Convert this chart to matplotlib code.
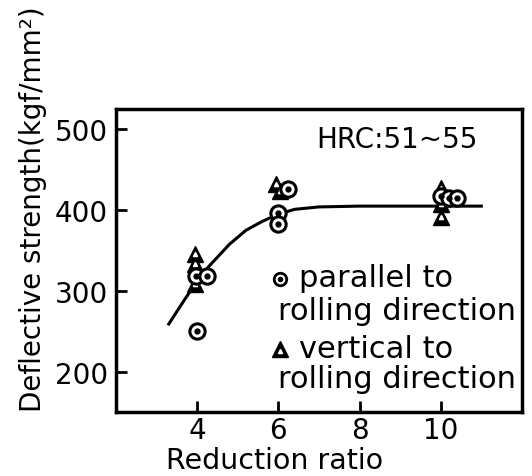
import matplotlib
matplotlib.use("Agg")
import matplotlib.pyplot as plt

# parallel to rolling direction (circles)
par_x = [3.97, 4.25, 4.0, 6.0, 6.0, 6.25, 10.0, 10.2, 10.4]
par_y = [318, 318, 250, 397, 383, 426, 417, 415, 415]

# vertical to rolling direction (triangles)
ver_x = [3.95, 3.95, 3.95, 5.95, 6.05, 10.0, 10.0, 10.0]
ver_y = [346, 333, 309, 432, 424, 428, 407, 391]

# trend curve
cur_x = [3.3, 3.7, 4.0, 4.3, 4.8, 5.2, 5.6, 6.0, 6.4, 7.0, 8.0, 9.0, 10.0, 11.0]
cur_y = [259, 290, 312, 331, 358, 375, 386, 395, 401, 404, 405, 405, 405, 405]

xticks = [4, 6, 8, 10]
yticks = [200, 300, 400, 500]

fig = plt.figure(figsize=(5.32, 4.77), dpi=100)
ax = fig.add_axes([0.218, 0.134, 0.763, 0.635])

ax.plot(cur_x, cur_y, '-', color='black', lw=2.2, zorder=1)

# circles with a dot in the centre
ax.plot(par_x, par_y, 'o', ms=11, mfc='white', mec='black', mew=2.2, ls='none', zorder=3)
ax.plot(par_x, par_y, 'o', ms=3.5, color='black', ls='none', zorder=4)
# filled triangles with a small hole
ax.plot(ver_x, ver_y, '^', ms=11, color='black', ls='none', zorder=2)
ax.plot(ver_x, ver_y, '^', ms=3, color='white', ls='none', zorder=2.5)

ax.set_xlim(2, 12)
ax.set_ylim(150, 525)
ax.set_xticks(xticks)
ax.set_yticks(yticks)
ax.tick_params(direction='in', length=8, width=2, labelsize=20, pad=6)
ax.tick_params(axis='x', pad=3)
for s in ax.spines.values():
    s.set_linewidth(2.5)

ax.text(8.93, 478, 'HRC:51~55', ha='center', va='baseline', fontsize=20)

# legend drawn as text
ax.plot([6.05], [315], 'o', ms=9, mfc='white', mec='black', mew=2, clip_on=False)
ax.plot([6.05], [315], 'o', ms=3, color='black', clip_on=False)
ax.text(6.5, 306, 'parallel to', ha='left', va='baseline', fontsize=22)
ax.text(5.98, 265, 'rolling direction', ha='left', va='baseline', fontsize=22)
ax.plot([6.05], [228], '^', ms=11, color='black', clip_on=False)
ax.plot([6.05], [226], '^', ms=3, color='white', clip_on=False)
ax.text(6.5, 218.5, 'vertical to', ha='left', va='baseline', fontsize=22)
ax.text(5.98, 181.5, 'rolling direction', ha='left', va='baseline', fontsize=22)

fig.text(0.062, 0.562, 'Deflective strength(kgf/mm²)', rotation=90, ha='center', va='center', fontsize=20)
fig.text(0.517, 0.004, 'Reduction ratio', ha='center', va='bottom', fontsize=20.5)

fig.savefig('out.png', dpi=100)
